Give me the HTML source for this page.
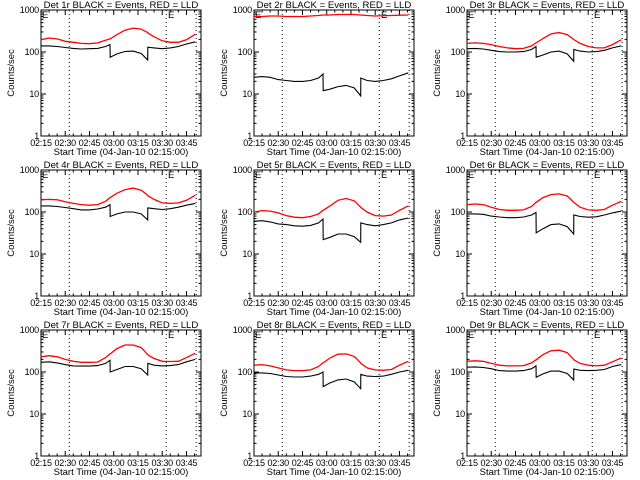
<!DOCTYPE html>
<html><head><meta charset="utf-8"><style>
html,body{margin:0;padding:0;background:#fff}
svg{display:block}
text{font-family:"Liberation Sans",sans-serif;font-size:9.5px;fill:#000}
text.ttl{font-size:9.6px}
text.tick{font-size:9px;letter-spacing:-0.2px}
</style></head><body>
<svg id="chart" width="640" height="480" viewBox="0 0 640 480"></svg>
<script>
// time in minutes after 02:15
const times = [0,5,10,15,20,25,30,35,40,42.7,42.8,47,52,57,62,66,66.1,70,75,80,85,90,95.5];
const panelNames = ["1r","2r","3r","4r","5r","6r","7r","8r","9r"];
const red1 = [195,215,205,180,170,160,158,165,190,205,205,260,330,370,350,290,285,230,185,170,170,195,265];
const black1 = [140,140,135,128,122,118,120,122,135,150,75,90,103,105,92,65,130,125,120,125,135,155,175];
const red2 = [700,700,720,720,700,700,700,720,740,760,760,760,780,780,780,760,760,740,720,730,740,750,760];
const black2 = [25,26,25,22,21,20,20,21,24,30,12,13,15,16,14,9,24,21,20,21,23,27,32];
const red3 = [160,165,160,150,135,125,120,122,140,165,165,210,270,290,260,200,198,160,135,125,125,150,195];
const black3 = [120,122,118,110,102,100,100,102,115,135,75,85,100,105,90,60,115,105,100,102,110,125,140];
const red4 = [195,200,195,175,160,150,145,150,180,220,220,280,340,370,330,250,245,200,165,160,165,190,250];
const black4 = [140,140,135,128,120,112,112,118,130,150,78,90,100,100,90,65,125,120,115,120,130,145,160];
const red5 = [100,108,105,95,82,75,73,78,90,110,110,140,190,210,185,130,128,100,82,80,85,110,140];
const black5 = [60,62,58,52,50,47,46,48,55,68,22,25,30,30,26,19,55,50,47,50,55,65,72];
const red6 = [150,155,150,130,115,110,110,112,135,170,170,220,260,270,240,170,168,130,112,110,115,145,180];
const black6 = [90,90,88,80,76,73,73,76,85,98,32,40,50,52,45,30,85,78,75,77,85,95,105];
const red7 = [230,245,230,200,180,170,170,172,220,270,270,360,440,440,380,260,255,210,180,178,180,220,280];
const black7 = [170,175,165,150,140,138,138,142,160,190,100,115,135,135,120,85,160,145,140,142,150,175,200];
const red8 = [145,150,140,125,112,108,108,112,135,165,165,215,265,270,235,165,160,125,112,110,115,145,180];
const black8 = [95,95,92,85,78,76,76,80,88,100,45,55,65,68,58,40,88,80,78,80,88,100,110];
const red9 = [180,185,180,160,145,140,140,142,165,195,195,260,320,330,290,200,195,160,145,140,145,175,215];
const black9 = [130,132,128,120,108,105,105,108,120,140,75,90,105,105,92,65,118,110,108,110,115,135,150];
const redSeries = [red1,red2,red3,red4,red5,red6,red7,red8,red9];
const blackSeries = [black1,black2,black3,black4,black5,black6,black7,black8,black9];
const xTickTimes = [0,15,30,45,60,75,90];
const xTickLabels = ["02:15","02:30","02:45","03:00","03:15","03:30","03:45"];
const yTickValues = [1,10,100,1000];
const yTickLabels = ["1","10","100","1000"];
const dottedTimes = [17.5,77.5,96];
const eTimes = [0,78];

const NS = "http://www.w3.org/2000/svg";
const svg = document.getElementById("chart");
const T_MAX = 99, PW = 160, PH = 126;
function mk(tag, attrs, parent){const e=document.createElementNS(NS,tag);for(const k in attrs)e.setAttribute(k,attrs[k]);parent.appendChild(e);return e;}

for(let p=0;p<9;p++){
  const col=p%3,row=Math.floor(p/3);
  const L=[41,254,467][col], T=10+row*160, B=T+PH, R=L+PW;
  const xs=t=>L+t/T_MAX*PW;
  const ys=v=>B-Math.log10(v)*(PH/3);
  const g=mk("g",{},svg);
  
  
  const title=mk("text",{x:(L+R)/2,y:T-2,"text-anchor":"middle","class":"ttl"},g);
  title.textContent="Det "+panelNames[p]+" BLACK = Events, RED = LLD";
  
  
  const box=mk("rect",{x:L,y:T,width:PW,height:PH,fill:"none",stroke:"#000","stroke-width":1},g);
  
  
  yTickValues.forEach((v,i)=>{
    const y=ys(v);
    mk("line",{x1:L,x2:L+5,y1:y,y2:y,stroke:"#000"},g);
    mk("line",{x1:R,x2:R-5,y1:y,y2:y,stroke:"#000"},g);
    const tl=mk("text",{x:L-2,y:y+3,"text-anchor":"end","class":"tick"},g);
    tl.textContent=yTickLabels[i];
    
    
    if(i<yTickValues.length-1){
      for(let m=2;m<10;m++){const ym=ys(v*m);
        mk("line",{x1:L,x2:L+2.5,y1:ym,y2:ym,stroke:"#000"},g);
        mk("line",{x1:R,x2:R-2.5,y1:ym,y2:ym,stroke:"#000"},g);}
    }
  });
  xTickTimes.forEach((t,i)=>{
    const x=xs(t);
    mk("line",{x1:x,x2:x,y1:B,y2:B-5,stroke:"#000"},g);
    mk("line",{x1:x,x2:x,y1:T,y2:T+5,stroke:"#000"},g);
    for(let m=5;m<15;m+=5){const xm=xs(t+m); if(t+m<T_MAX){
      mk("line",{x1:xm,x2:xm,y1:B,y2:B-2.5,stroke:"#000"},g);
      mk("line",{x1:xm,x2:xm,y1:T,y2:T+2.5,stroke:"#000"},g);}}
    const tl=mk("text",{x:x,y:B+10,"text-anchor":"middle","class":"tick"},g);
    tl.textContent=xTickLabels[i];
    
    
  });
  const xt=mk("text",{x:(L+R)/2,y:B+19,"text-anchor":"middle"},g);
  xt.textContent="Start Time (04-Jan-10 02:15:00)";
  
  
  const yt=mk("text",{x:0,y:0,"text-anchor":"middle",transform:`translate(${L-27},${(T+B)/2}) rotate(-90)`},g);
  yt.textContent="Counts/sec";
  
  
  dottedTimes.forEach(t=>{
    const dl=mk("line",{x1:xs(t),x2:xs(t),y1:T,y2:B,stroke:"#000","stroke-dasharray":"1,3"},g);
    
    
  });
  eTimes.forEach(t=>{
    const et=mk("text",{x:xs(t)+1,y:T+8},g);
    et.textContent="E";
    
    
  });
  const toPts=arr=>arr.map((v,i)=>xs(times[i]).toFixed(1)+","+ys(v).toFixed(1)).join(" ");
  const rl=mk("polyline",{points:toPts(redSeries[p]),fill:"none",stroke:"#ff0000","stroke-width":1.3},g);
  
  
  const bl=mk("polyline",{points:toPts(blackSeries[p]),fill:"none",stroke:"#000","stroke-width":1.1},g);
  
  
}
</script>
</body></html>
